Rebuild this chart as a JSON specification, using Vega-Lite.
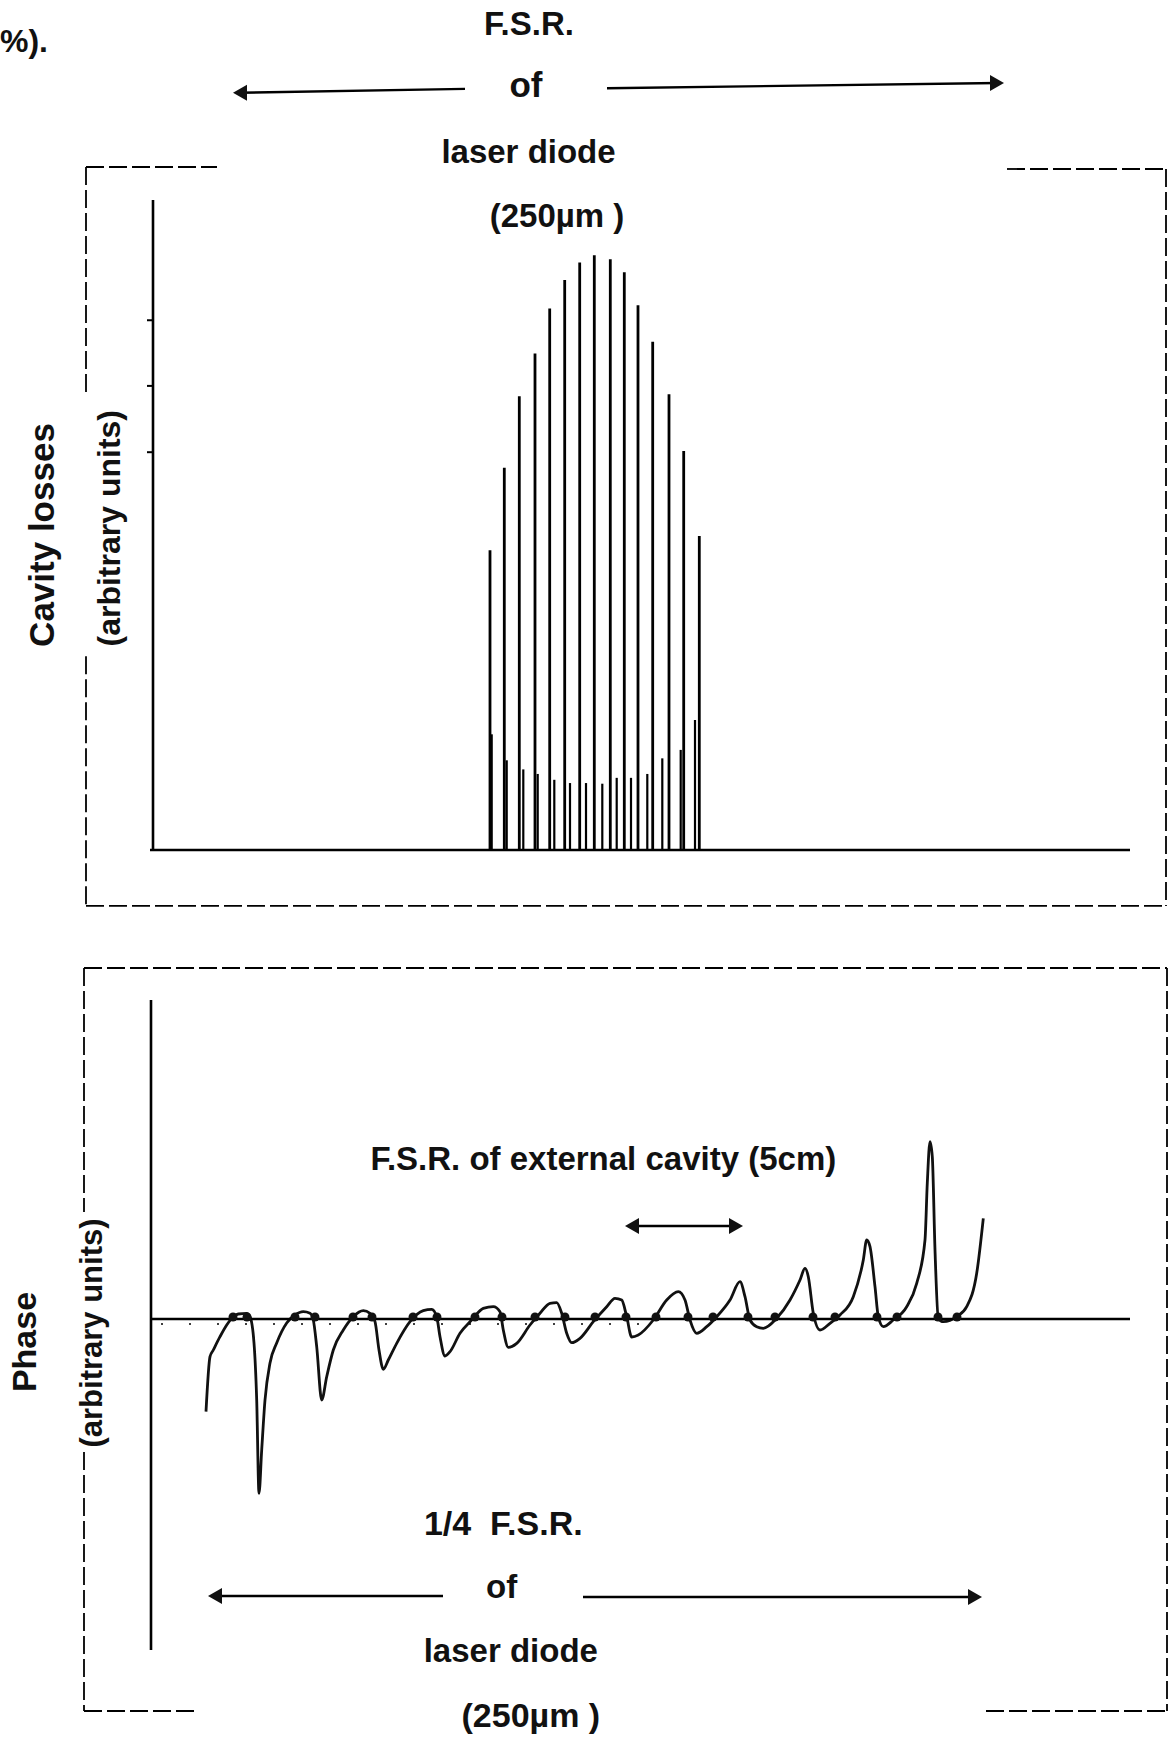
{
  "$schema": "https://vega.github.io/schema/vega-lite/v6.json",
  "width": 1175,
  "height": 1747,
  "padding": 0,
  "autosize": {"type": "none"},
  "background": "white",
  "config": {
    "view": {"stroke": null},
    "mark": {"color": "#111"},
    "text": {"font": "Liberation Sans", "fontWeight": "bold", "color": "#111"}
  },
  "datasets": {
    "one": [{}],
    "spikes": [
      {"f": 33.7, "loss": 46.1, "kind": "main"},
      {"f": 35.13, "loss": 58.8, "kind": "main"},
      {"f": 36.63, "loss": 69.8, "kind": "main"},
      {"f": 38.2, "loss": 76.4, "kind": "main"},
      {"f": 39.67, "loss": 83.3, "kind": "main"},
      {"f": 41.17, "loss": 87.7, "kind": "main"},
      {"f": 42.67, "loss": 90.4, "kind": "main"},
      {"f": 44.13, "loss": 91.5, "kind": "main"},
      {"f": 45.73, "loss": 90.9, "kind": "main"},
      {"f": 47.13, "loss": 88.9, "kind": "main"},
      {"f": 48.5, "loss": 83.8, "kind": "main"},
      {"f": 49.97, "loss": 78.2, "kind": "main"},
      {"f": 51.6, "loss": 70.1, "kind": "main"},
      {"f": 53.07, "loss": 61.4, "kind": "main"},
      {"f": 54.63, "loss": 48.3, "kind": "main"},
      {"f": 33.87, "loss": 17.8, "kind": "side"},
      {"f": 35.37, "loss": 13.8, "kind": "side"},
      {"f": 37.03, "loss": 12.4, "kind": "side"},
      {"f": 38.47, "loss": 11.7, "kind": "side"},
      {"f": 40.13, "loss": 10.8, "kind": "side"},
      {"f": 41.7, "loss": 10.3, "kind": "side"},
      {"f": 43.3, "loss": 10.3, "kind": "side"},
      {"f": 44.93, "loss": 10.2, "kind": "side"},
      {"f": 46.37, "loss": 11.1, "kind": "side"},
      {"f": 47.8, "loss": 11.1, "kind": "side"},
      {"f": 49.43, "loss": 11.7, "kind": "side"},
      {"f": 50.93, "loss": 14.1, "kind": "side"},
      {"f": 52.77, "loss": 15.4, "kind": "side"},
      {"f": 54.2, "loss": 20.0, "kind": "side"}
    ],
    "topTicks": [{"loss": 61.2}, {"loss": 71.4}, {"loss": 81.5}],
    "phase": [
      {"g": 5.5, "phase": -18.54}, {"g": 5.9, "phase": -7.54}, {"g": 6.23, "phase": -6.2}, {"g": 6.9, "phase": -3.54},
      {"g": 7.57, "phase": -1.2}, {"g": 8.23, "phase": 0.46}, {"g": 8.73, "phase": 1.0}, {"g": 9.57, "phase": 1.14},
      {"g": 9.9, "phase": 0.46}, {"g": 10.3, "phase": -4.8}, {"g": 10.57, "phase": -16.2}, {"g": 10.8, "phase": -34.86},
      {"g": 11.07, "phase": -26.2}, {"g": 11.4, "phase": -16.2}, {"g": 11.9, "phase": -8.8}, {"g": 12.57, "phase": -4.8},
      {"g": 13.57, "phase": -0.8}, {"g": 14.4, "phase": 0.8}, {"g": 15.23, "phase": 1.46}, {"g": 15.9, "phase": 1.14},
      {"g": 16.23, "phase": -0.2}, {"g": 16.57, "phase": -5.54}, {"g": 17.07, "phase": -16.2}, {"g": 17.57, "phase": -11.54},
      {"g": 18.23, "phase": -6.2}, {"g": 19.23, "phase": -2.2}, {"g": 20.23, "phase": 0.46}, {"g": 21.23, "phase": 1.66},
      {"g": 21.9, "phase": 1.14}, {"g": 22.4, "phase": -0.54}, {"g": 22.8, "phase": -6.2}, {"g": 23.23, "phase": -10.06},
      {"g": 23.73, "phase": -8.2}, {"g": 24.57, "phase": -4.86}, {"g": 25.9, "phase": -0.54}, {"g": 27.23, "phase": 1.66},
      {"g": 28.07, "phase": 1.94}, {"g": 28.57, "phase": 0.46}, {"g": 28.9, "phase": -3.54}, {"g": 29.4, "phase": -7.4},
      {"g": 29.9, "phase": -6.54}, {"g": 30.9, "phase": -2.86}, {"g": 32.07, "phase": -0.2}, {"g": 33.23, "phase": 2.14},
      {"g": 34.23, "phase": 2.46}, {"g": 34.9, "phase": 1.46}, {"g": 35.23, "phase": -2.2}, {"g": 35.73, "phase": -5.66},
      {"g": 36.57, "phase": -4.86}, {"g": 37.9, "phase": -1.2}, {"g": 38.9, "phase": 1.14}, {"g": 39.9, "phase": 3.14},
      {"g": 40.57, "phase": 3.26}, {"g": 41.07, "phase": 1.14}, {"g": 41.57, "phase": -2.86}, {"g": 42.07, "phase": -4.74},
      {"g": 42.9, "phase": -3.86}, {"g": 44.23, "phase": -0.54}, {"g": 45.57, "phase": 2.46}, {"g": 46.4, "phase": 4.14},
      {"g": 47.07, "phase": 3.8}, {"g": 47.57, "phase": 0.46}, {"g": 48.07, "phase": -3.6}, {"g": 48.73, "phase": -3.2},
      {"g": 50.23, "phase": -0.2}, {"g": 51.57, "phase": 3.8}, {"g": 52.73, "phase": 5.46}, {"g": 53.4, "phase": 3.8},
      {"g": 53.9, "phase": -0.2}, {"g": 54.57, "phase": -2.86}, {"g": 55.57, "phase": -1.54}, {"g": 56.57, "phase": 0.46},
      {"g": 57.9, "phase": 3.8}, {"g": 58.9, "phase": 7.46}, {"g": 59.4, "phase": 4.46}, {"g": 59.9, "phase": -0.2},
      {"g": 60.57, "phase": -1.54}, {"g": 61.23, "phase": -1.86}, {"g": 62.57, "phase": 0.14}, {"g": 63.9, "phase": 3.8},
      {"g": 64.9, "phase": 7.8}, {"g": 65.4, "phase": 10.14}, {"g": 65.73, "phase": 8.46}, {"g": 66.23, "phase": 1.14},
      {"g": 66.9, "phase": -2.2}, {"g": 67.9, "phase": -0.86}, {"g": 68.9, "phase": 0.8}, {"g": 70.23, "phase": 4.46},
      {"g": 71.23, "phase": 11.8}, {"g": 71.57, "phase": 15.8}, {"g": 71.9, "phase": 14.46}, {"g": 72.4, "phase": 6.46},
      {"g": 72.73, "phase": 0.46}, {"g": 73.23, "phase": -1.54}, {"g": 74.23, "phase": -0.2}, {"g": 75.57, "phase": 2.46},
      {"g": 76.57, "phase": 7.14}, {"g": 77.4, "phase": 15.8}, {"g": 77.63, "phase": 27.2}, {"g": 77.9, "phase": 35.46},
      {"g": 78.13, "phase": 32.46}, {"g": 78.4, "phase": 13.8}, {"g": 78.73, "phase": 0.14}, {"g": 79.23, "phase": -0.54},
      {"g": 80.57, "phase": 0.46}, {"g": 81.57, "phase": 2.46}, {"g": 82.57, "phase": 9.14}, {"g": 83.23, "phase": 20.14}
    ],
    "crossings": [
      {"g": 8.2, "phase": 0.4}, {"g": 9.6, "phase": 0.4}, {"g": 14.4, "phase": 0.4}, {"g": 16.4, "phase": 0.4},
      {"g": 20.2, "phase": 0.4}, {"g": 22.1, "phase": 0.4}, {"g": 26.2, "phase": 0.4}, {"g": 28.6, "phase": 0.4},
      {"g": 32.4, "phase": 0.4}, {"g": 35.1, "phase": 0.4}, {"g": 38.4, "phase": 0.4}, {"g": 41.4, "phase": 0.4},
      {"g": 44.4, "phase": 0.4}, {"g": 47.5, "phase": 0.4}, {"g": 50.5, "phase": 0.4}, {"g": 53.7, "phase": 0.4},
      {"g": 56.2, "phase": 0.4}, {"g": 59.7, "phase": 0.4}, {"g": 62.4, "phase": 0.4}, {"g": 66.2, "phase": 0.4},
      {"g": 68.4, "phase": 0.4}, {"g": 72.6, "phase": 0.4}, {"g": 74.6, "phase": 0.4}, {"g": 78.7, "phase": 0.4},
      {"g": 80.6, "phase": 0.4}
    ]
  },
  "resolve": {"scale": {"x": "independent", "y": "independent"}},
  "layer": [
    {
      "layer": [
        {
          "data": {"name": "spikes"},
          "mark": {"type": "rule"},
          "encoding": {
            "x": {"field": "f", "type": "quantitative", "scale": {"domain": [-15.3, 102.2], "nice": false, "zero": false}, "axis": null},
            "y": {"field": "loss", "type": "quantitative", "scale": {"domain": [-138, 130.769], "nice": false, "zero": false}, "axis": null},
            "y2": {"datum": 0},
            "strokeWidth": {"field": "kind", "type": "nominal", "scale": {"domain": ["main", "side"], "range": [2.8, 2.2]}, "legend": null}
          }
        },
        {
          "data": {"name": "topTicks"},
          "mark": {"type": "rule", "strokeWidth": 2},
          "encoding": {
            "x": {"datum": -0.6, "type": "quantitative", "scale": {"domain": [-15.3, 102.2], "nice": false, "zero": false}, "axis": null},
            "x2": {"datum": 0},
            "y": {"field": "loss", "type": "quantitative", "scale": {"domain": [-138, 130.769], "nice": false, "zero": false}, "axis": null}
          }
        },
        {
          "data": {"name": "one"},
          "mark": {"type": "rule", "strokeWidth": 2.6},
          "encoding": {
            "x": {"datum": -0.3, "type": "quantitative", "scale": {"domain": [-15.3, 102.2], "nice": false, "zero": false}, "axis": null},
            "x2": {"datum": 97.7},
            "y": {"datum": 0, "type": "quantitative", "scale": {"domain": [-138, 130.769], "nice": false, "zero": false}, "axis": null}
          }
        },
        {
          "data": {"name": "one"},
          "mark": {"type": "rule", "strokeWidth": 2.6},
          "encoding": {
            "x": {"datum": 0, "type": "quantitative", "scale": {"domain": [-15.3, 102.2], "nice": false, "zero": false}, "axis": null},
            "y": {"datum": 0, "type": "quantitative", "scale": {"domain": [-138, 130.769], "nice": false, "zero": false}, "axis": null},
            "y2": {"datum": 100}
          }
        },
        {
          "data": {"name": "one"},
          "mark": {"type": "rule", "strokeWidth": 1.8, "strokeDash": [18, 5]},
          "encoding": {
            "x": {"datum": -6.7, "type": "quantitative", "scale": {"domain": [-15.3, 102.2], "nice": false, "zero": false}, "axis": null},
            "x2": {"datum": 6.4},
            "y": {"datum": 105.08, "type": "quantitative", "scale": {"domain": [-138, 130.769], "nice": false, "zero": false}, "axis": null}
          }
        },
        {
          "data": {"name": "one"},
          "mark": {"type": "rule", "strokeWidth": 1.8, "strokeDash": [18, 5]},
          "encoding": {
            "x": {"datum": 85.4, "type": "quantitative", "scale": {"domain": [-15.3, 102.2], "nice": false, "zero": false}, "axis": null},
            "x2": {"datum": 101.3},
            "y": {"datum": 104.77, "type": "quantitative", "scale": {"domain": [-138, 130.769], "nice": false, "zero": false}, "axis": null}
          }
        },
        {
          "data": {"name": "one"},
          "mark": {"type": "rule", "strokeWidth": 1.8, "strokeDash": [18, 5]},
          "encoding": {
            "x": {"datum": 101.3, "type": "quantitative", "scale": {"domain": [-15.3, 102.2], "nice": false, "zero": false}, "axis": null},
            "y": {"datum": 104.77, "type": "quantitative", "scale": {"domain": [-138, 130.769], "nice": false, "zero": false}, "axis": null},
            "y2": {"datum": -8.6}
          }
        },
        {
          "data": {"name": "one"},
          "mark": {"type": "rule", "strokeWidth": 1.8, "strokeDash": [18, 5]},
          "encoding": {
            "x": {"datum": -6.7, "type": "quantitative", "scale": {"domain": [-15.3, 102.2], "nice": false, "zero": false}, "axis": null},
            "x2": {"datum": 101.3},
            "y": {"datum": -8.6, "type": "quantitative", "scale": {"domain": [-138, 130.769], "nice": false, "zero": false}, "axis": null}
          }
        },
        {
          "data": {"name": "one"},
          "mark": {"type": "rule", "strokeWidth": 1.8, "strokeDash": [18, 5]},
          "encoding": {
            "x": {"datum": -6.7, "type": "quantitative", "scale": {"domain": [-15.3, 102.2], "nice": false, "zero": false}, "axis": null},
            "y": {"datum": 105.08, "type": "quantitative", "scale": {"domain": [-138, 130.769], "nice": false, "zero": false}, "axis": null},
            "y2": {"datum": 70.0}
          }
        },
        {
          "data": {"name": "one"},
          "mark": {"type": "rule", "strokeWidth": 1.8, "strokeDash": [18, 5]},
          "encoding": {
            "x": {"datum": -6.7, "type": "quantitative", "scale": {"domain": [-15.3, 102.2], "nice": false, "zero": false}, "axis": null},
            "y": {"datum": 29.8, "type": "quantitative", "scale": {"domain": [-138, 130.769], "nice": false, "zero": false}, "axis": null},
            "y2": {"datum": -8.6}
          }
        },
        {
          "data": {"name": "one"},
          "mark": {"type": "rule", "strokeWidth": 2.4},
          "encoding": {
            "x": {"datum": 8.6, "type": "quantitative", "scale": {"domain": [-15.3, 102.2], "nice": false, "zero": false}, "axis": null},
            "x2": {"datum": 31.2},
            "y": {"datum": 116.5, "type": "quantitative", "scale": {"domain": [-138, 130.769], "nice": false, "zero": false}, "axis": null},
            "y2": {"datum": 117.1}
          }
        },
        {
          "data": {"name": "one"},
          "mark": {"type": "point", "shape": "triangle-left", "filled": true, "size": 260, "opacity": 1},
          "encoding": {
            "x": {"datum": 8.7, "type": "quantitative", "scale": {"domain": [-15.3, 102.2], "nice": false, "zero": false}, "axis": null},
            "y": {"datum": 116.5, "type": "quantitative", "scale": {"domain": [-138, 130.769], "nice": false, "zero": false}, "axis": null}
          }
        },
        {
          "data": {"name": "one"},
          "mark": {"type": "rule", "strokeWidth": 2.4},
          "encoding": {
            "x": {"datum": 45.4, "type": "quantitative", "scale": {"domain": [-15.3, 102.2], "nice": false, "zero": false}, "axis": null},
            "x2": {"datum": 84.5},
            "y": {"datum": 117.2, "type": "quantitative", "scale": {"domain": [-138, 130.769], "nice": false, "zero": false}, "axis": null},
            "y2": {"datum": 118.0}
          }
        },
        {
          "data": {"name": "one"},
          "mark": {"type": "point", "shape": "triangle-right", "filled": true, "size": 260, "opacity": 1},
          "encoding": {
            "x": {"datum": 84.4, "type": "quantitative", "scale": {"domain": [-15.3, 102.2], "nice": false, "zero": false}, "axis": null},
            "y": {"datum": 118.0, "type": "quantitative", "scale": {"domain": [-138, 130.769], "nice": false, "zero": false}, "axis": null}
          }
        },
        {
          "data": {"name": "one"},
          "mark": {"type": "text", "text": "%).", "fontSize": 32, "align": "left", "baseline": "alphabetic"},
          "encoding": {
            "x": {"datum": -15.3, "type": "quantitative", "scale": {"domain": [-15.3, 102.2], "nice": false, "zero": false}, "axis": null},
            "y": {"datum": 122.8, "type": "quantitative", "scale": {"domain": [-138, 130.769], "nice": false, "zero": false}, "axis": null}
          }
        },
        {
          "data": {"name": "one"},
          "mark": {"type": "text", "text": "F.S.R.", "fontSize": 33, "align": "center", "baseline": "alphabetic"},
          "encoding": {
            "x": {"datum": 37.6, "type": "quantitative", "scale": {"domain": [-15.3, 102.2], "nice": false, "zero": false}, "axis": null},
            "y": {"datum": 125.38, "type": "quantitative", "scale": {"domain": [-138, 130.769], "nice": false, "zero": false}, "axis": null}
          }
        },
        {
          "data": {"name": "one"},
          "mark": {"type": "text", "text": "of", "fontSize": 35, "align": "center", "baseline": "alphabetic"},
          "encoding": {
            "x": {"datum": 37.3, "type": "quantitative", "scale": {"domain": [-15.3, 102.2], "nice": false, "zero": false}, "axis": null},
            "y": {"datum": 115.89, "type": "quantitative", "scale": {"domain": [-138, 130.769], "nice": false, "zero": false}, "axis": null}
          }
        },
        {
          "data": {"name": "one"},
          "mark": {"type": "text", "text": "laser diode", "fontSize": 33, "align": "center", "baseline": "alphabetic"},
          "encoding": {
            "x": {"datum": 37.55, "type": "quantitative", "scale": {"domain": [-15.3, 102.2], "nice": false, "zero": false}, "axis": null},
            "y": {"datum": 105.65, "type": "quantitative", "scale": {"domain": [-138, 130.769], "nice": false, "zero": false}, "axis": null}
          }
        },
        {
          "data": {"name": "one"},
          "mark": {"type": "text", "text": "(250µm )", "fontSize": 33, "align": "center", "baseline": "alphabetic"},
          "encoding": {
            "x": {"datum": 40.4, "type": "quantitative", "scale": {"domain": [-15.3, 102.2], "nice": false, "zero": false}, "axis": null},
            "y": {"datum": 95.85, "type": "quantitative", "scale": {"domain": [-138, 130.769], "nice": false, "zero": false}, "axis": null}
          }
        },
        {
          "data": {"name": "one"},
          "mark": {"type": "text", "text": "Cavity losses", "fontSize": 35, "angle": 270, "align": "center", "baseline": "middle"},
          "encoding": {
            "x": {"datum": -11.0, "type": "quantitative", "scale": {"domain": [-15.3, 102.2], "nice": false, "zero": false}, "axis": null},
            "y": {"datum": 48.46, "type": "quantitative", "scale": {"domain": [-138, 130.769], "nice": false, "zero": false}, "axis": null}
          }
        },
        {
          "data": {"name": "one"},
          "mark": {"type": "text", "text": "(arbitrary units)", "fontSize": 32, "angle": 270, "align": "center", "baseline": "middle"},
          "encoding": {
            "x": {"datum": -4.3, "type": "quantitative", "scale": {"domain": [-15.3, 102.2], "nice": false, "zero": false}, "axis": null},
            "y": {"datum": 49.5, "type": "quantitative", "scale": {"domain": [-138, 130.769], "nice": false, "zero": false}, "axis": null}
          }
        }
      ]
    },
    {
      "layer": [
        {
          "data": {"name": "phase"},
          "mark": {"type": "line", "strokeWidth": 2.8, "interpolate": "monotone"},
          "encoding": {
            "x": {"field": "g", "type": "quantitative", "scale": {"domain": [-15.1, 102.4], "nice": false, "zero": false}, "axis": null},
            "y": {"field": "phase", "type": "quantitative", "scale": {"domain": [-85.6, 263.8], "nice": false, "zero": false}, "axis": null}
          }
        },
        {
          "data": {"name": "one"},
          "mark": {"type": "rule", "strokeWidth": 2.4},
          "encoding": {
            "x": {"datum": 0, "type": "quantitative", "scale": {"domain": [-15.1, 102.4], "nice": false, "zero": false}, "axis": null},
            "x2": {"datum": 97.9},
            "y": {"datum": 0, "type": "quantitative", "scale": {"domain": [-85.6, 263.8], "nice": false, "zero": false}, "axis": null}
          }
        },
        {
          "data": {"name": "one"},
          "mark": {"type": "rule", "strokeWidth": 1.6, "strokeDash": [2, 26]},
          "encoding": {
            "x": {"datum": 1, "type": "quantitative", "scale": {"domain": [-15.1, 102.4], "nice": false, "zero": false}, "axis": null},
            "x2": {"datum": 50},
            "y": {"datum": -1.0, "type": "quantitative", "scale": {"domain": [-85.6, 263.8], "nice": false, "zero": false}, "axis": null}
          }
        },
        {
          "data": {"name": "one"},
          "mark": {"type": "rule", "strokeWidth": 2.6},
          "encoding": {
            "x": {"datum": 0, "type": "quantitative", "scale": {"domain": [-15.1, 102.4], "nice": false, "zero": false}, "axis": null},
            "y": {"datum": 63.8, "type": "quantitative", "scale": {"domain": [-85.6, 263.8], "nice": false, "zero": false}, "axis": null},
            "y2": {"datum": -66.2}
          }
        },
        {
          "data": {"name": "crossings"},
          "mark": {"type": "point", "shape": "circle", "filled": true, "size": 80, "opacity": 1},
          "encoding": {
            "x": {"field": "g", "type": "quantitative", "scale": {"domain": [-15.1, 102.4], "nice": false, "zero": false}, "axis": null},
            "y": {"field": "phase", "type": "quantitative", "scale": {"domain": [-85.6, 263.8], "nice": false, "zero": false}, "axis": null}
          }
        },
        {
          "data": {"name": "one"},
          "mark": {"type": "rule", "strokeWidth": 1.8, "strokeDash": [18, 5]},
          "encoding": {
            "x": {"datum": -6.7, "type": "quantitative", "scale": {"domain": [-15.1, 102.4], "nice": false, "zero": false}, "axis": null},
            "x2": {"datum": 101.6},
            "y": {"datum": 70.2, "type": "quantitative", "scale": {"domain": [-85.6, 263.8], "nice": false, "zero": false}, "axis": null}
          }
        },
        {
          "data": {"name": "one"},
          "mark": {"type": "rule", "strokeWidth": 1.8, "strokeDash": [18, 5]},
          "encoding": {
            "x": {"datum": 101.6, "type": "quantitative", "scale": {"domain": [-15.1, 102.4], "nice": false, "zero": false}, "axis": null},
            "y": {"datum": 70.2, "type": "quantitative", "scale": {"domain": [-85.6, 263.8], "nice": false, "zero": false}, "axis": null},
            "y2": {"datum": -78.4}
          }
        },
        {
          "data": {"name": "one"},
          "mark": {"type": "rule", "strokeWidth": 1.8, "strokeDash": [18, 5]},
          "encoding": {
            "x": {"datum": -6.7, "type": "quantitative", "scale": {"domain": [-15.1, 102.4], "nice": false, "zero": false}, "axis": null},
            "x2": {"datum": 4.8},
            "y": {"datum": -78.4, "type": "quantitative", "scale": {"domain": [-85.6, 263.8], "nice": false, "zero": false}, "axis": null}
          }
        },
        {
          "data": {"name": "one"},
          "mark": {"type": "rule", "strokeWidth": 1.8, "strokeDash": [18, 5]},
          "encoding": {
            "x": {"datum": 83.5, "type": "quantitative", "scale": {"domain": [-15.1, 102.4], "nice": false, "zero": false}, "axis": null},
            "x2": {"datum": 101.6},
            "y": {"datum": -78.4, "type": "quantitative", "scale": {"domain": [-85.6, 263.8], "nice": false, "zero": false}, "axis": null}
          }
        },
        {
          "data": {"name": "one"},
          "mark": {"type": "rule", "strokeWidth": 1.8, "strokeDash": [18, 5]},
          "encoding": {
            "x": {"datum": -6.7, "type": "quantitative", "scale": {"domain": [-15.1, 102.4], "nice": false, "zero": false}, "axis": null},
            "y": {"datum": 70.2, "type": "quantitative", "scale": {"domain": [-85.6, 263.8], "nice": false, "zero": false}, "axis": null},
            "y2": {"datum": 21.4}
          }
        },
        {
          "data": {"name": "one"},
          "mark": {"type": "rule", "strokeWidth": 1.8, "strokeDash": [18, 5]},
          "encoding": {
            "x": {"datum": -6.7, "type": "quantitative", "scale": {"domain": [-15.1, 102.4], "nice": false, "zero": false}, "axis": null},
            "y": {"datum": -26.6, "type": "quantitative", "scale": {"domain": [-85.6, 263.8], "nice": false, "zero": false}, "axis": null},
            "y2": {"datum": -78.4}
          }
        },
        {
          "data": {"name": "one"},
          "mark": {"type": "rule", "strokeWidth": 2.4},
          "encoding": {
            "x": {"datum": 48.0, "type": "quantitative", "scale": {"domain": [-15.1, 102.4], "nice": false, "zero": false}, "axis": null},
            "x2": {"datum": 58.6},
            "y": {"datum": 18.6, "type": "quantitative", "scale": {"domain": [-85.6, 263.8], "nice": false, "zero": false}, "axis": null}
          }
        },
        {
          "data": {"name": "one"},
          "mark": {"type": "point", "shape": "triangle-left", "filled": true, "size": 260, "opacity": 1},
          "encoding": {
            "x": {"datum": 48.1, "type": "quantitative", "scale": {"domain": [-15.1, 102.4], "nice": false, "zero": false}, "axis": null},
            "y": {"datum": 18.6, "type": "quantitative", "scale": {"domain": [-85.6, 263.8], "nice": false, "zero": false}, "axis": null}
          }
        },
        {
          "data": {"name": "one"},
          "mark": {"type": "point", "shape": "triangle-right", "filled": true, "size": 260, "opacity": 1},
          "encoding": {
            "x": {"datum": 58.5, "type": "quantitative", "scale": {"domain": [-15.1, 102.4], "nice": false, "zero": false}, "axis": null},
            "y": {"datum": 18.6, "type": "quantitative", "scale": {"domain": [-85.6, 263.8], "nice": false, "zero": false}, "axis": null}
          }
        },
        {
          "data": {"name": "one"},
          "mark": {"type": "rule", "strokeWidth": 2.4},
          "encoding": {
            "x": {"datum": 6.3, "type": "quantitative", "scale": {"domain": [-15.1, 102.4], "nice": false, "zero": false}, "axis": null},
            "x2": {"datum": 29.2},
            "y": {"datum": -55.4, "type": "quantitative", "scale": {"domain": [-85.6, 263.8], "nice": false, "zero": false}, "axis": null}
          }
        },
        {
          "data": {"name": "one"},
          "mark": {"type": "point", "shape": "triangle-left", "filled": true, "size": 260, "opacity": 1},
          "encoding": {
            "x": {"datum": 6.4, "type": "quantitative", "scale": {"domain": [-15.1, 102.4], "nice": false, "zero": false}, "axis": null},
            "y": {"datum": -55.4, "type": "quantitative", "scale": {"domain": [-85.6, 263.8], "nice": false, "zero": false}, "axis": null}
          }
        },
        {
          "data": {"name": "one"},
          "mark": {"type": "rule", "strokeWidth": 2.4},
          "encoding": {
            "x": {"datum": 43.2, "type": "quantitative", "scale": {"domain": [-15.1, 102.4], "nice": false, "zero": false}, "axis": null},
            "x2": {"datum": 82.5},
            "y": {"datum": -55.6, "type": "quantitative", "scale": {"domain": [-85.6, 263.8], "nice": false, "zero": false}, "axis": null}
          }
        },
        {
          "data": {"name": "one"},
          "mark": {"type": "point", "shape": "triangle-right", "filled": true, "size": 260, "opacity": 1},
          "encoding": {
            "x": {"datum": 82.4, "type": "quantitative", "scale": {"domain": [-15.1, 102.4], "nice": false, "zero": false}, "axis": null},
            "y": {"datum": -55.6, "type": "quantitative", "scale": {"domain": [-85.6, 263.8], "nice": false, "zero": false}, "axis": null}
          }
        },
        {
          "data": {"name": "one"},
          "mark": {"type": "text", "text": "F.S.R. of external cavity (5cm)", "fontSize": 33, "align": "center", "baseline": "alphabetic"},
          "encoding": {
            "x": {"datum": 45.23, "type": "quantitative", "scale": {"domain": [-15.1, 102.4], "nice": false, "zero": false}, "axis": null},
            "y": {"datum": 29.8, "type": "quantitative", "scale": {"domain": [-85.6, 263.8], "nice": false, "zero": false}, "axis": null}
          }
        },
        {
          "data": {"name": "one"},
          "mark": {"type": "text", "text": "1/4\u00a0 F.S.R.", "fontSize": 34, "align": "center", "baseline": "alphabetic"},
          "encoding": {
            "x": {"datum": 35.23, "type": "quantitative", "scale": {"domain": [-15.1, 102.4], "nice": false, "zero": false}, "axis": null},
            "y": {"datum": -43.2, "type": "quantitative", "scale": {"domain": [-85.6, 263.8], "nice": false, "zero": false}, "axis": null}
          }
        },
        {
          "data": {"name": "one"},
          "mark": {"type": "text", "text": "of", "fontSize": 33, "align": "center", "baseline": "alphabetic"},
          "encoding": {
            "x": {"datum": 35.07, "type": "quantitative", "scale": {"domain": [-15.1, 102.4], "nice": false, "zero": false}, "axis": null},
            "y": {"datum": -55.8, "type": "quantitative", "scale": {"domain": [-85.6, 263.8], "nice": false, "zero": false}, "axis": null}
          }
        },
        {
          "data": {"name": "one"},
          "mark": {"type": "text", "text": "laser diode", "fontSize": 33, "align": "center", "baseline": "alphabetic"},
          "encoding": {
            "x": {"datum": 35.98, "type": "quantitative", "scale": {"domain": [-15.1, 102.4], "nice": false, "zero": false}, "axis": null},
            "y": {"datum": -68.6, "type": "quantitative", "scale": {"domain": [-85.6, 263.8], "nice": false, "zero": false}, "axis": null}
          }
        },
        {
          "data": {"name": "one"},
          "mark": {"type": "text", "text": "(250µm )", "fontSize": 34, "align": "center", "baseline": "alphabetic"},
          "encoding": {
            "x": {"datum": 37.98, "type": "quantitative", "scale": {"domain": [-15.1, 102.4], "nice": false, "zero": false}, "axis": null},
            "y": {"datum": -81.6, "type": "quantitative", "scale": {"domain": [-85.6, 263.8], "nice": false, "zero": false}, "axis": null}
          }
        },
        {
          "data": {"name": "one"},
          "mark": {"type": "text", "text": "Phase", "fontSize": 34, "angle": 270, "align": "center", "baseline": "middle"},
          "encoding": {
            "x": {"datum": -12.5, "type": "quantitative", "scale": {"domain": [-15.1, 102.4], "nice": false, "zero": false}, "axis": null},
            "y": {"datum": -4.6, "type": "quantitative", "scale": {"domain": [-85.6, 263.8], "nice": false, "zero": false}, "axis": null}
          }
        },
        {
          "data": {"name": "one"},
          "mark": {"type": "text", "text": "(arbitrary units)", "fontSize": 31, "angle": 270, "align": "center", "baseline": "middle"},
          "encoding": {
            "x": {"datum": -5.8, "type": "quantitative", "scale": {"domain": [-15.1, 102.4], "nice": false, "zero": false}, "axis": null},
            "y": {"datum": -2.8, "type": "quantitative", "scale": {"domain": [-85.6, 263.8], "nice": false, "zero": false}, "axis": null}
          }
        }
      ]
    }
  ]
}
